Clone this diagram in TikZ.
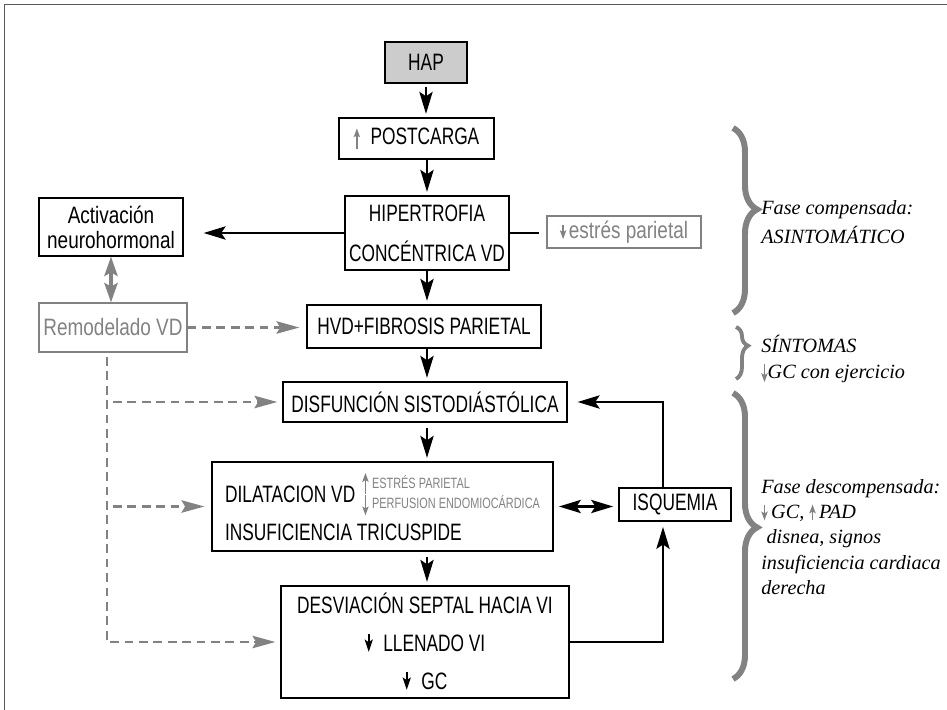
\documentclass[tikz,border=0pt]{standalone}
\usepackage{fontspec}
\setmainfont{Liberation Serif}
\newfontfamily\condfont[FakeStretch=0.73]{Liberation Sans}
\newfontfamily\condlfont[FakeStretch=0.8]{Liberation Sans}
\usepackage{xcolor}
\usepackage{tikz}
\usetikzlibrary{arrows.meta, positioning, calc, decorations.pathreplacing}
\definecolor{boxgray}{RGB}{204,204,204}
\definecolor{midgray}{RGB}{130,130,130}

% small inline arrows (from, to)
\newcommand{\garr}[2]{\tikz[baseline=0pt]\draw[midgray, line width=0.8pt, -{Stealth[length=5pt,width=3.6pt,inset=1pt]}] (0,#1) -- (0,#2);}
\newcommand{\barr}[2]{\tikz[baseline=0pt]\draw[black, line width=1pt, -{Stealth[length=7pt,width=4.6pt,inset=1.5pt]}] (0,#1) -- (0,#2);}

\begin{document}
\begin{tikzpicture}[x=0.02cm, y=-0.02cm,
  >={Stealth[length=12.5pt,width=7.5pt,inset=2.5pt]},
  box/.style={draw, line width=0.7pt, inner sep=0pt, align=center, font=\condfont\fontsize{13.5}{21.6}\selectfont},
  lowbox/.style={box, font=\condlfont\fontsize{13.5}{14.2}\selectfont},
  greybox/.style={lowbox, draw=midgray, text=midgray},
  flow/.style={line width=1.5pt, ->},
  dashflow/.style={midgray, line width=1.6pt, dash pattern=on 5pt off 3.2pt, -{Stealth[length=13pt,width=7pt,inset=2pt]}},
  phase/.style 2 args={midgray, line width=3.4pt, decorate, decoration={brace, amplitude=#2, aspect=#1}},
  note/.style={anchor=west, align=left, inner sep=0pt, font=\itshape\fontsize{11.5}{14.4}\selectfont}]
\useasboundingbox (0,0) rectangle (947,710);
\clip (0,0) rectangle (947,710);
\draw[black!65, line width=0.9pt] (4.5,4.5) rectangle (960,720);

% Main column
\node[box, fill=boxgray, minimum width=1.64cm, minimum height=0.82cm] (hap) at (426,62.5) {HAP};
\node[box, minimum width=3.1cm, minimum height=0.82cm] (post) at (416.5,138.5) {\garr{-2.5pt}{9pt}\hspace{6pt}POSTCARGA};
\node[box, font=\condfont\fontsize{13.5}{22.8}\selectfont, minimum width=3.28cm, minimum height=1.48cm] (hip) at (427,233) {HIPERTROFIA\\CONCÉNTRICA VD};
\node[box, minimum width=4.68cm, minimum height=0.86cm] (hvd) at (424,326.5) {HVD+FIBROSIS PARIETAL};
\node[box, minimum width=5.68cm, minimum height=0.8cm] (dis) at (425,402) {DISFUNCIÓN SISTODIÁSTÓLICA};
\node[box, align=left, minimum width=6.82cm, minimum height=1.78cm] (dil) at (382.5,506.5)
  {DILATACION VD\hspace{4pt}\raisebox{2.7pt}{\fontsize{8.5}{10.8}\selectfont\color{midgray}%
   \begin{tabular}[c]{@{}l@{}}\garr{-2.8pt}{9pt}\hspace{2pt}ESTRÉS PARIETAL\\\garr{7.4pt}{-4pt}\hspace{2pt}PERFUSION ENDOMIOCÁRDICA\end{tabular}}\\
   INSUFICIENCIA TRICUSPIDE};
\node[box, minimum width=5.76cm, minimum height=2.24cm] (desv) at (425,642)
  {DESVIACIÓN SEPTAL HACIA VI\\\barr{10pt}{0pt}\hspace{6pt}LLENADO VI\\\barr{10pt}{0pt}\hspace{6pt}GC};
\node[box, minimum width=2.24cm, minimum height=0.66cm] (isq) at (675,504.5) {ISQUEMIA};

% Side boxes
\node[lowbox, minimum width=2.88cm, minimum height=1.16cm] (act) at (111,227) {Activación\\neurohormonal};
\node[greybox, minimum width=3.08cm, minimum height=0.64cm] (est) at (624,232) {\garr{7.5pt}{-0.5pt}\hspace{1.5pt}estrés parietal};
\node[greybox, minimum width=2.96cm, minimum height=0.98cm] (rem) at (113,327.5) {Remodelado VD};

\coordinate (col) at (427,0);
\coordinate (isqx) at (663,0);
\coordinate (trk) at (107,357);

% Arrows
\draw[flow, shorten <=2pt, shorten >=2pt] (hap.south) -- (hap.south |- post.north);
\draw[flow, shorten >=2pt] (col |- post.south) -- (col |- hip.north);
\draw[flow, shorten >=2pt] (col |- hip.south) -- (col |- hvd.north);
\draw[flow, shorten >=2pt] (col |- hvd.south) -- (col |- dis.north);
\draw[flow, shorten <=3pt, shorten >=2pt] (col |- dis.south) -- (col |- dil.north);
\draw[flow, shorten <=3pt, shorten >=2pt] (col |- dil.south) -- (col |- desv.north);
\draw[flow, shorten >=0.4cm] (hip.west) -- (hip.west -| act.east);
\draw[line width=1.5pt, shorten >=0.14cm] (hip.east) -- (hip.east -| est.west);
\draw[midgray, line width=2pt, {Stealth[length=11pt,width=7.5pt,inset=2pt]}-{Stealth[length=11pt,width=7.5pt,inset=2pt]}] (act.south) -- (act.south |- rem.north);
\draw[flow, <->, shorten <=3pt, shorten >=3pt] (dil.east) -- (dil.east -| isq.west);
\draw[flow, shorten >=0.2cm] (isqx |- isq.north) |- (dis.east);
\draw[flow, shorten >=3pt] (desv.east) -| (isqx |- isq.south);

% Dashed remodelling arrows
\draw[dashflow, shorten >=0.14cm] (rem.east) -- (rem.east -| hvd.west);
\draw[dashflow, shorten >=0.1cm] (trk) |- (desv.west);
\draw[dashflow, shorten <=0.12cm, shorten >=0.1cm] (trk |- dis.west) -- (dis.west);
\draw[dashflow, shorten <=0.12cm, shorten >=0.14cm] (trk |- dil.west) -- (dil.west);

% Phases
\draw[phase={0.44}{0.48cm}] (733,128) -- (733,313);
\draw[phase={0.36}{0.24cm}, line width=2.2pt] (736,327) -- (736,379);
\draw[phase={0.47}{0.48cm}] (733,393) -- (733,679);

\node[note, font=\itshape\fontsize{11.5}{16.5}\selectfont] (comp) at (761,222.5) {Fase compensada:\\ASINTOMÁTICO};
\node[note, font=\itshape\fontsize{11.5}{14.8}\selectfont] (sint) at (761,359) {SÍNTOMAS\\\garr{8pt}{-2pt}GC con ejercicio};
\node[note] (desc) at (761,537) {Fase descompensada:\\\garr{8pt}{-1pt}\hspace{2pt}GC, \garr{-1pt}{8pt}\hspace{2pt}PAD\\\hspace*{3pt}disnea, signos\\insuficiencia cardiaca\\derecha};
\end{tikzpicture}
\end{document}
